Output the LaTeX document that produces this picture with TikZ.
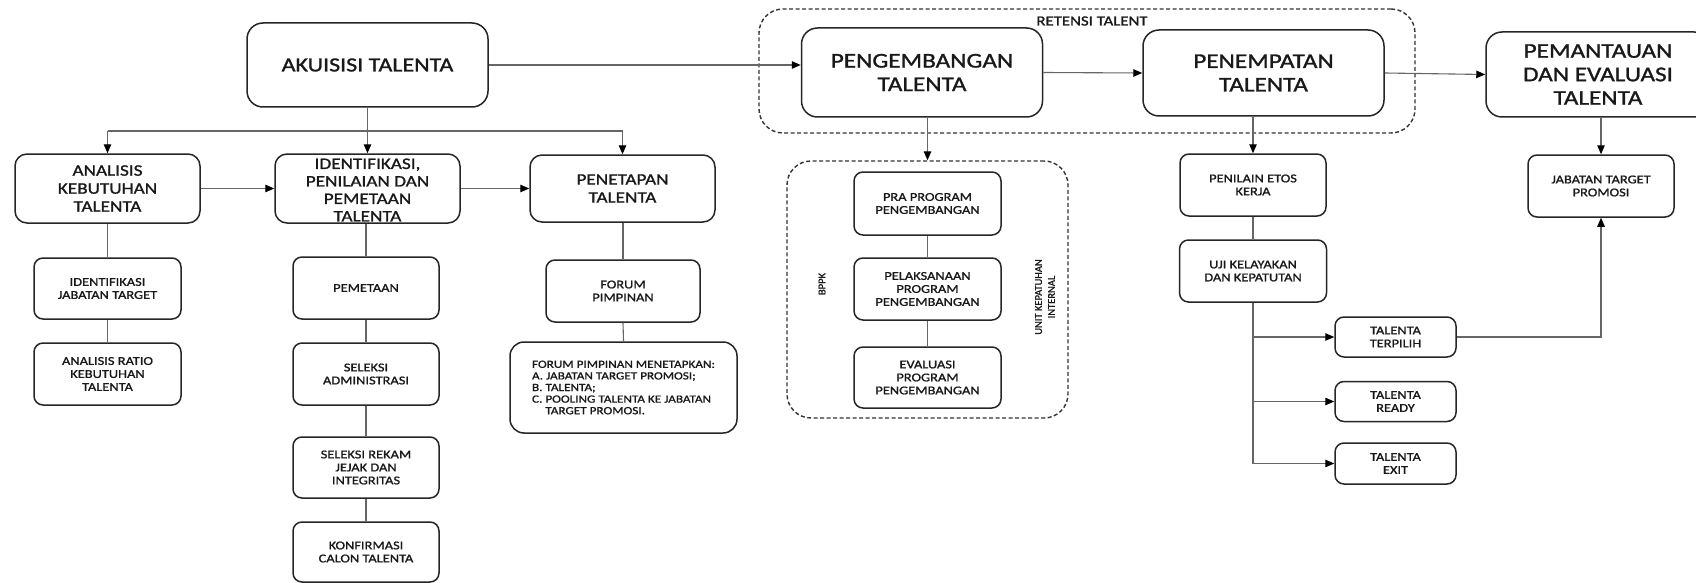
\documentclass[tikz,border=0pt]{standalone}
\usepackage{fontspec}
\setmainfont[FakeStretch=1.2,FakeBold=1.2]{Carlito}
\newfontfamily\rotfont[FakeBold=1.2]{Carlito}
\usetikzlibrary{arrows.meta}
\begin{document}
\begin{tikzpicture}[x=1pt,y=-1pt,
  bx/.style={draw=black!85, line width=1.5pt, rounded corners=9pt, align=center, inner sep=0pt, text=black!90, font=\fontsize{12}{13}\selectfont},
  mid/.style={bx, rounded corners=12pt, font=\fontsize{16}{18}\selectfont},
  big/.style={bx, rounded corners=16pt, font=\fontsize{21}{23.5}\selectfont},
  sz/.style 2 args={minimum width=#1pt, minimum height=#2pt},
  conn/.style={draw=black!60, line width=1.1pt},
  arr/.style={conn, -{Triangle[length=9pt,width=7.5pt,color=black]}},
  dbox/.style={draw=black!80, line width=1.4pt, dash pattern=on 4pt off 2.5pt, rounded corners=24pt, inner sep=0pt},
  lbl/.style={inner sep=0pt, text=black!90, align=center}
]
\useasboundingbox[fill=white] (0,0) rectangle (1696,583);

% dashed groups
\node[dbox, sz={656}{124}] (ret) at (1087,71) {};
\node[lbl, font=\fontsize{14}{16}\selectfont] (retl) at (1092,21) {RETENSI TALENT};
\node[dbox, sz={281}{257}] (bppk) at (927.5,289.5) {};

% top row
\node[big, font=\fontsize{20}{24}\selectfont, sz={241}{84}] (aku) at (367.5,65) {AKUISISI TALENTA};
\node[big, sz={241}{89}] (peng) at (922,72.5) {PENGEMBANGAN\\TALENTA};
\node[big, sz={241}{86}] (penem) at (1263.5,73) {PENEMPATAN\\TALENTA};
\node[big, sz={224}{85}] (pemant) at (1598,74.5) {PEMANTAUAN\\DAN EVALUASI\\TALENTA};

% second row
\node[mid, sz={185}{69}] (ana) at (107.5,188.5) {ANALISIS\\KEBUTUHAN\\TALENTA};
\node[mid, sz={185}{69}] (ide) at (367.5,188.5) {};
\node[lbl, font=\fontsize{16}{17.5}\selectfont] (idet) at (367.5,190) {IDENTIFIKASI,\\PENILAIAN DAN\\PEMETAAN\\TALENTA};
\node[mid, sz={185}{67}] (pen) at (622.5,188.5) {PENETAPAN\\TALENTA};

% analisis column
\node[bx, sz={147}{61}] (ijt) at (107.5,288.5) {IDENTIFIKASI\\JABATAN TARGET};
\node[bx, sz={147}{62}] (arat) at (107.5,374) {ANALISIS RATIO\\KEBUTUHAN\\TALENTA};

% identifikasi column
\node[bx, sz={146}{62}] (pem) at (366,288) {PEMETAAN};
\node[bx, sz={146}{62}] (sad) at (366,374) {SELEKSI\\ADMINISTRASI};
\node[bx, sz={146}{61}] (srk) at (366,467.5) {SELEKSI REKAM\\JEJAK DAN\\INTEGRITAS};
\node[bx, sz={146}{60}] (kon) at (366,552) {KONFIRMASI\\CALON TALENTA};

% penetapan column
\node[bx, sz={154}{62}] (forum) at (623,291) {FORUM\\PIMPINAN};
\node[bx, rounded corners=14pt, align=left, font=\fontsize{11}{11.6}\selectfont, sz={227}{91}] (fmt) at (623.5,387.5)
  {FORUM PIMPINAN MENETAPKAN:\\A. JABATAN TARGET PROMOSI;\\B. TALENTA;\\C. POOLING TALENTA KE JABATAN\\\hphantom{C. }TARGET PROMOSI.};

% pengembangan group
\node[bx, sz={147}{63}] (pra) at (927.5,203.5) {PRA PROGRAM\\PENGEMBANGAN};
\node[bx, sz={147}{62}] (pel) at (927.5,289) {PELAKSANAAN\\PROGRAM\\PENGEMBANGAN};
\node[bx, sz={147}{61}] (eva) at (927.5,377.5) {EVALUASI\\PROGRAM\\PENGEMBANGAN};
\node[lbl, rotate=90, font=\rotfont\fontsize{10.5}{12.5}\selectfont] (bppkl) at (822,284) {BPPK};
\node[lbl, rotate=90, font=\rotfont\fontsize{10.5}{13}\selectfont] (ukil) at (1045,297) {UNIT KEPATUHAN\\INTERNAL};

% penempatan column
\node[bx, sz={146}{62}] (etos) at (1253,185) {PENILAIN ETOS\\KERJA};
\node[bx, sz={147}{62}] (uji) at (1253,271) {UJI KELAYAKAN\\DAN KEPATUTAN};
\node[bx, sz={121}{40}] (terp) at (1395.5,337) {TALENTA\\TERPILIH};
\node[bx, sz={121}{40}] (ready) at (1395.5,401.5) {TALENTA\\READY};
\node[bx, sz={121}{41}] (exitb) at (1395.5,463.5) {TALENTA\\EXIT};

% pemantauan column
\node[bx, sz={146}{62}] (jab) at (1601,186) {JABATAN TARGET\\PROMOSI};

% connectors
\draw[arr] (aku.east) -- (aku.east -| peng.west);
\draw[arr] (peng.east) -- (penem.west);
\draw[arr] (penem.east) -- (pemant.west);

\coordinate (br) at (367.5,131);
\draw[arr] (aku.south) -- (ide.north);
\draw[conn] (ana.north |- br) -- (pen.north |- br);
\draw[arr] (ana.north |- br) -- (ana.north);
\draw[arr] (pen.north |- br) -- (pen.north);
\draw[arr] (ana.east) -- (ide.west);
\draw[arr] (ide.east) -- (pen.west);

\draw[conn] (ana.south) -- (ijt.north);
\draw[conn] (ijt.south) -- (arat.north);
\draw[conn] (pem.north |- ide.south) -- (pem.north);
\draw[conn] (pem.south) -- (sad.north);
\draw[conn] (sad.south) -- (srk.north);
\draw[conn] (srk.south) -- (kon.north);
\draw[conn] (forum.north |- pen.south) -- (forum.north);
\draw[conn] (forum.south) -- (fmt.north);

\draw[arr] (bppk.north |- peng.south) -- (bppk.north);
\draw[conn] (pra.south) -- (pel.north);
\draw[conn] (pel.south) -- (eva.north);

\draw[arr] (etos.north |- penem.south) -- (etos.north);
\draw[conn] (etos.south) -- (uji.north);
\coordinate (vend) at (1253,463.5);
\draw[conn] (uji.south) -- (vend);
\draw[arr] (uji.south |- terp.west) -- (terp.west);
\draw[arr] (uji.south |- ready.west) -- (ready.west);
\draw[arr] (vend) -- (exitb.west);

\draw[arr] (jab.north |- pemant.south) -- (jab.north);
\draw[arr] (terp.east) -| (jab.south);
\end{tikzpicture}
\end{document}
